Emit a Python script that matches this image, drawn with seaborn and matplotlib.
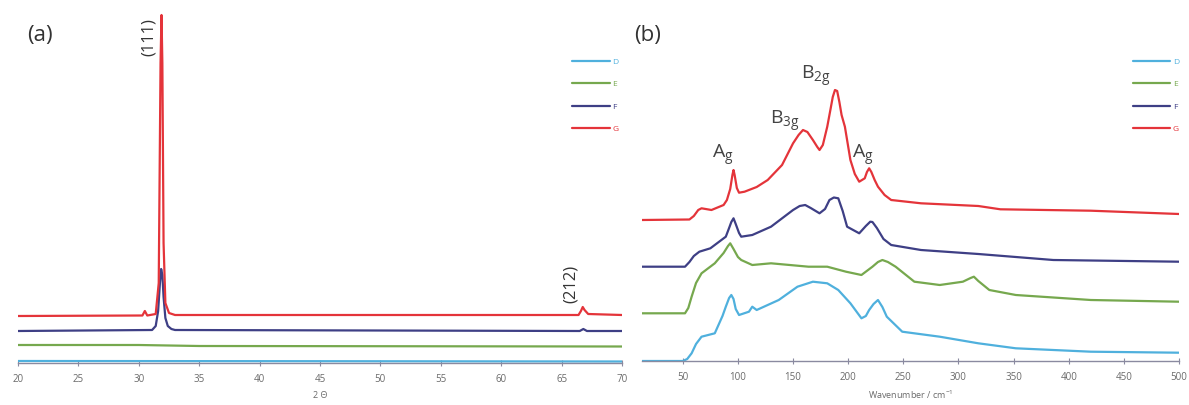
"""XRD (a) and Raman (b) stacked patterns for samples D-G"""
import matplotlib

matplotlib.use("Agg")
import matplotlib.pyplot as plt
import pandas as pd
import seaborn as sns

samples = ["D", "E", "F", "G"]
colors = ["#4fb0dd", "#76a84e", "#3e3f85", "#e4343a"]

# (a) XRD, 2 theta vs offset intensity (arb.)
xrd_D_x = [20, 45, 70]
xrd_D_y = [2, 1.8, 1.5]
xrd_E_x = [20, 30, 35, 70]
xrd_E_y = [18, 18, 17, 16.5]
xrd_F_x = [20, 31.1, 31.4, 31.6, 31.75, 31.85, 31.95, 32.05, 32.2, 32.4, 32.7, 33,
           66.5, 66.8, 67.1, 70]
xrd_F_y = [32, 33, 37, 52, 80, 94, 88, 66, 45, 37, 34, 33,
           32, 34, 32, 32]
xrd_G_x = [20, 30.3, 30.5, 30.7, 31.4, 31.65, 31.8, 31.88, 31.95, 32.05, 32.2, 32.5, 33,
           66.4, 66.6, 66.75, 66.9, 67.2, 70]
xrd_G_y = [47, 47.5, 52, 47.5, 49, 80, 300, 348, 300, 120, 60, 50, 48,
           48, 52, 56, 53, 49, 48]

# (b) Raman, wavenumber vs offset intensity (arb.)
ram_D_x = [13, 50, 54, 58, 62, 67, 79, 86, 89, 92, 94, 96, 98, 101, 110, 113, 117, 137,
           154, 168, 181, 191, 202, 212, 216, 219, 223, 227, 231, 235, 249, 283, 318,
           352, 420, 500]
ram_D_y = [0, 0, 2, 7.7, 17, 24.3, 27.7, 45, 54.3, 63, 66, 62, 52, 46, 49.3, 54.3, 51,
           61, 74.3, 79.3, 77.7, 71, 57.7, 42.7, 45, 51, 57, 61, 54, 44.3, 29.3, 24.3,
           17.7, 12.7, 9.3, 8.3]
ram_E_x = [13, 52, 55, 58, 62, 67, 79, 87, 91, 93, 96, 100, 103, 113, 130, 147, 164,
           181, 198, 212, 222, 227, 231, 236, 243, 260, 283, 304, 311, 314, 318, 328,
           352, 420, 500]
ram_E_y = [47.7, 47.7, 53, 64.3, 78, 87.7, 97.7, 108, 115, 117.7, 112, 104, 101, 96,
           97.7, 96, 94.3, 94.3, 89.3, 86, 94.3, 99, 101, 99, 94.3, 79.3, 76, 79.3, 83,
           84.3, 80, 71, 66, 61, 59.3]
ram_F_x = [13, 52, 56, 60, 65, 75, 89, 92, 94, 96, 98, 101, 103, 113, 130, 150, 156,
           161, 166, 174, 179, 183, 187, 191, 195, 199, 210, 216, 220, 222, 226, 232,
           239, 266, 318, 386, 500]
ram_F_y = [94.3, 94.3, 99, 105, 109.3, 112.7, 124.3, 133, 139, 142.7, 137, 128, 124.3,
           126, 134.3, 151, 155, 156, 153, 147.7, 152, 161, 163.5, 162.7, 150, 134.3,
           127.7, 135, 139.3, 139, 133, 122, 116, 111, 107, 101, 99.3]
ram_G_x = [13, 56, 60, 64, 67, 76, 87, 90, 93, 95, 96, 97, 99, 101, 106, 117, 127, 140,
           150, 155, 159, 163, 168, 172, 174, 177, 181, 184, 186, 188, 190, 192, 194,
           197, 202, 206, 210, 215, 217, 219, 221, 224, 227, 233, 239, 266, 318, 338,
           420, 500]
ram_G_y = [141, 141.5, 145, 151, 152.7, 151, 156, 161, 172, 186, 191, 186, 173, 168.3,
           169.3, 174, 181, 196, 217.7, 226, 231, 229, 221, 214, 211, 216, 234.3, 252,
           264, 271, 270, 259, 246, 234.3, 201, 187, 179.3, 182.7, 189, 192.7, 189, 181,
           174.3, 166, 161, 157.7, 155, 151.7, 150.3, 147]


def long_form(xs, ys):
    frames = []
    for name, x, y in zip(samples, xs, ys):
        frames.append(pd.DataFrame({"x": x, "y": y, "sample": name}))
    return pd.concat(frames, ignore_index=True)


xrd = long_form([xrd_D_x, xrd_E_x, xrd_F_x, xrd_G_x], [xrd_D_y, xrd_E_y, xrd_F_y, xrd_G_y])
raman = long_form([ram_D_x, ram_E_x, ram_F_x, ram_G_x], [ram_D_y, ram_E_y, ram_F_y, ram_G_y])

sns.set_style("white")
plt.rcParams["font.family"] = ["Open Sans", "DejaVu Sans"]
plt.rcParams["mathtext.default"] = "regular"

W, H = 1189, 405
f = plt.figure(figsize=(W / 100, H / 100), dpi=100)
ax_a = f.add_axes([18 / W, 42 / H, 604 / W, 353 / H])
ax_b = f.add_axes([642 / W, 44 / H, 537 / W, 351 / H])

palette = dict(zip(samples, colors))


def style_axis(ax):
    for s in ["top", "right", "left"]:
        ax.spines[s].set_visible(False)
    ax.spines["bottom"].set_color("#8a8aa0")
    ax.spines["bottom"].set_linewidth(1.0)
    ax.set_yticks([])
    ax.set_ylabel("")
    ax.tick_params(axis="x", direction="inout", length=4, width=0.8, color="#8a8aa0",
                   labelsize=7, labelcolor="#6a6a6a", pad=6, bottom=True)


sns.lineplot(data=xrd, x="x", y="y", hue="sample", palette=palette, estimator=None,
             sort=False, lw=1.6, ax=ax_a)
ax_a.set_xlim(20, 70)
ax_a.set_ylim(0, 353)
ax_a.set_xticks(range(20, 71, 5))
style_axis(ax_a)
ax_a.set_xlabel("2 Θ", fontsize=6.5, color="#6a6a6a", labelpad=4)
ax_a.text(30.85, 326, "(111)", rotation=90, ha="center", va="center", fontsize=12,
          color="#333333")
ax_a.text(65.8, 79, "(212)", rotation=90, ha="center", va="center", fontsize=12,
          color="#333333")

sns.lineplot(data=raman, x="x", y="y", hue="sample", palette=palette, estimator=None,
             sort=False, lw=1.6, ax=ax_b)
ax_b.set_xlim(13, 500)
ax_b.set_ylim(0, 351)
ax_b.set_xticks(range(50, 501, 50))
style_axis(ax_b)
ax_b.set_xlabel("Wavenumber / cm$^{-1}$", fontsize=6.5, color="#6a6a6a", labelpad=4)
ann_kw = dict(ha="center", va="center", fontsize=14, color="#444444")
ax_b.text(86, 206, "A$_g$", **ann_kw)
ax_b.text(142.7, 240, "B$_{3g}$", **ann_kw)
ax_b.text(170.8, 285, "B$_{2g}$", **ann_kw)
ax_b.text(213.4, 206, "A$_g$", **ann_kw)

for ax, x0 in [(ax_a, 0.905), (ax_b, 0.9)]:
    sns.move_legend(ax, "upper left", bbox_to_anchor=(x0, 0.885), title=None,
                    frameon=False, fontsize=6, labelspacing=1.75, handlelength=4.5,
                    handletextpad=0.3, labelcolor="linecolor")

f.text(27 / W, 1 - 36 / H, "(a)", fontsize=16, va="center", color="#333333")
f.text(634 / W, 1 - 36 / H, "(b)", fontsize=16, va="center", color="#333333")

out = "out.png"
print(f"plot to {out}")
f.savefig(out, dpi=100)
